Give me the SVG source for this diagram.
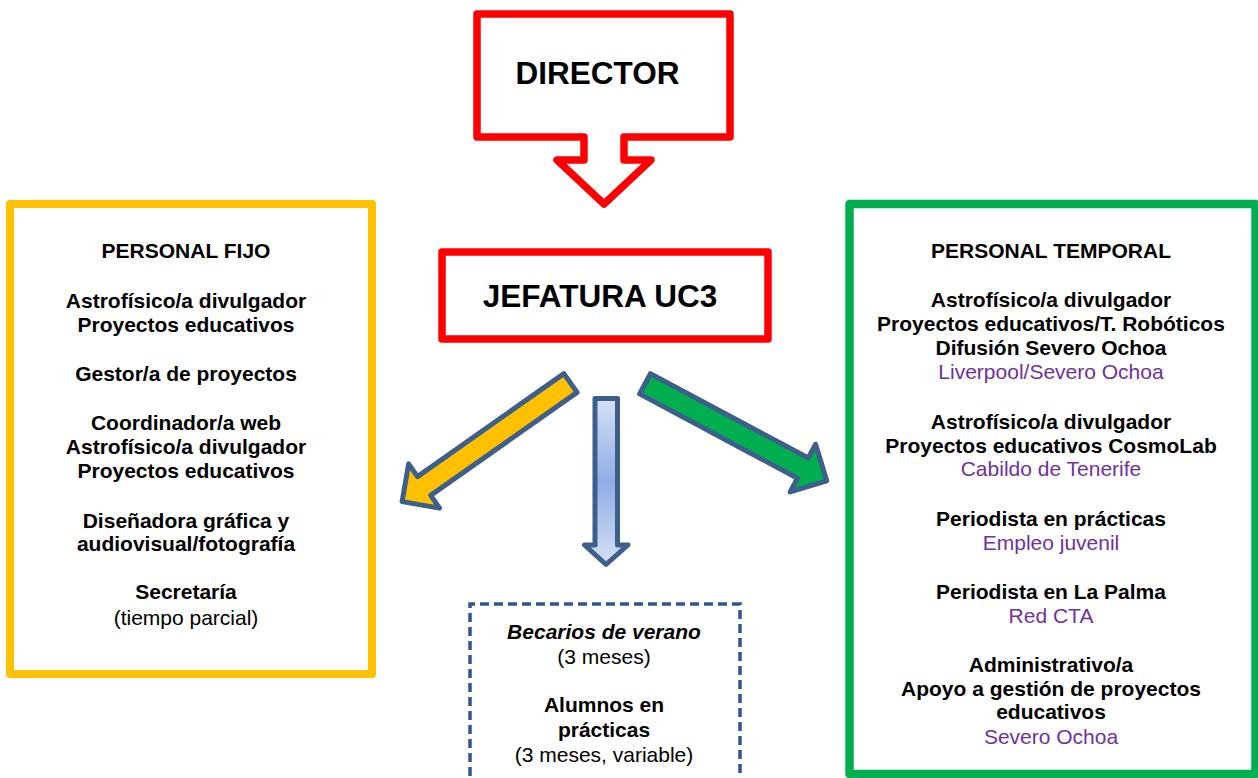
<svg xmlns="http://www.w3.org/2000/svg" width="1258" height="778" viewBox="0 0 1258 778">
  <defs>
    <style>
      text { font-family: "Liberation Sans", Arial, sans-serif; font-size: 21px; fill: #000; text-anchor: middle; }
      .b { font-weight: bold; }
      .big { font-weight: bold; font-size: 31.5px; }
      .p { fill: #7030A0; }
      .bi { font-weight: bold; font-style: italic; }
      .red { fill: #fff; stroke: #FF0000; stroke-width: 7.5; stroke-linejoin: round; }
      .arrow { stroke: #3D5F8C; stroke-width: 5; stroke-linejoin: round; }
    </style>
    <linearGradient id="blueGrad" x1="0" y1="0" x2="0" y2="1">
      <stop offset="0" stop-color="#D6E0F4"/>
      <stop offset="0.5" stop-color="#8EADE6"/>
      <stop offset="1" stop-color="#D6E0F4"/>
    </linearGradient>
  </defs>
  <rect width="1258" height="778" fill="#fff"/>

  <g id="director">
    <path class="red" d="M477,14 H730 V137 H624 V160 H651 L604,204 L557,160 H584 V137 H477 Z"/>
    <text class="big" x="597.5" y="83.5">DIRECTOR</text>
  </g>

  <g id="jefatura">
    <rect class="red" x="442" y="252" width="326" height="87"/>
    <text class="big" x="600" y="306.7">JEFATURA UC3</text>
  </g>

  <g id="personal-fijo">
    <rect x="10" y="204" width="362" height="470" fill="#fff" stroke="#FFC000" stroke-width="8" stroke-linejoin="round"/>
    <text class="b" x="186" y="258">PERSONAL FIJO</text>
    <text class="b" x="186" y="308">Astrofísico/a divulgador</text>
    <text class="b" x="186" y="332">Proyectos educativos</text>
    <text class="b" x="186" y="381">Gestor/a de proyectos</text>
    <text class="b" x="186" y="430">Coordinador/a web</text>
    <text class="b" x="186" y="454">Astrofísico/a divulgador</text>
    <text class="b" x="186" y="478">Proyectos educativos</text>
    <text class="b" x="186" y="528">Diseñadora gráfica y</text>
    <text class="b" x="186" y="551">audiovisual/fotografía</text>
    <text class="b" x="186" y="599">Secretaría</text>
    <text x="186" y="625">(tiempo parcial)</text>
  </g>

  <g id="personal-temporal">
    <rect x="849.5" y="204" width="406" height="570" fill="#fff" stroke="#00B050" stroke-width="8.5" stroke-linejoin="round"/>
    <text class="b" x="1051" y="257.5">PERSONAL TEMPORAL</text>
    <text class="b" x="1051" y="306.5">Astrofísico/a divulgador</text>
    <text class="b" x="1051" y="330.7">Proyectos educativos/T. Robóticos</text>
    <text class="b" x="1051" y="355">Difusión Severo Ochoa</text>
    <text class="p" x="1051" y="379">Liverpool/Severo Ochoa</text>
    <text class="b" x="1051" y="429">Astrofísico/a divulgador</text>
    <text class="b" x="1051" y="452.6">Proyectos educativos CosmoLab</text>
    <text class="p" x="1051" y="476.4">Cabildo de Tenerife</text>
    <text class="b" x="1051" y="526">Periodista en prácticas</text>
    <text class="p" x="1051" y="550">Empleo juvenil</text>
    <text class="b" x="1051" y="599">Periodista en La Palma</text>
    <text class="p" x="1051" y="622.5">Red CTA</text>
    <text class="b" x="1051" y="672">Administrativo/a</text>
    <text class="b" x="1051" y="695.7">Apoyo a gestión de proyectos</text>
    <text class="b" x="1051" y="719">educativos</text>
    <text class="p" x="1051" y="744.4">Severo Ochoa</text>
  </g>

  <g id="becarios">
    <path d="M470,790 V604 H740 V790" fill="#fff" stroke="#2F5597" stroke-width="3.5" stroke-dasharray="9,5"/>
    <text class="bi" x="604" y="639">Becarios de verano</text>
    <text x="604" y="664">(3 meses)</text>
    <text class="b" x="604" y="712">Alumnos en</text>
    <text class="b" x="604" y="737">prácticas</text>
    <text x="604" y="762">(3 meses, variable)</text>
  </g>

  <g id="connectors">
    <polygon class="arrow" fill="#FFC000" points="577.1,392.4 563.9,373.6 417.5,476.6 408.6,463.9 402.1,501.6 439.6,508.1 430.7,495.4"/>
    <polygon class="arrow" fill="#00B050" points="639.6,393.9 650.4,373.7 808.3,458.0 815.6,444.3 826.7,480.8 790.2,491.9 797.5,478.2"/>
    <polygon class="arrow" fill="url(#blueGrad)" points="595,398.5 617.5,398.5 617.5,545 628,545 606,564.5 584.5,545 595,545"/>
  </g>
</svg>
